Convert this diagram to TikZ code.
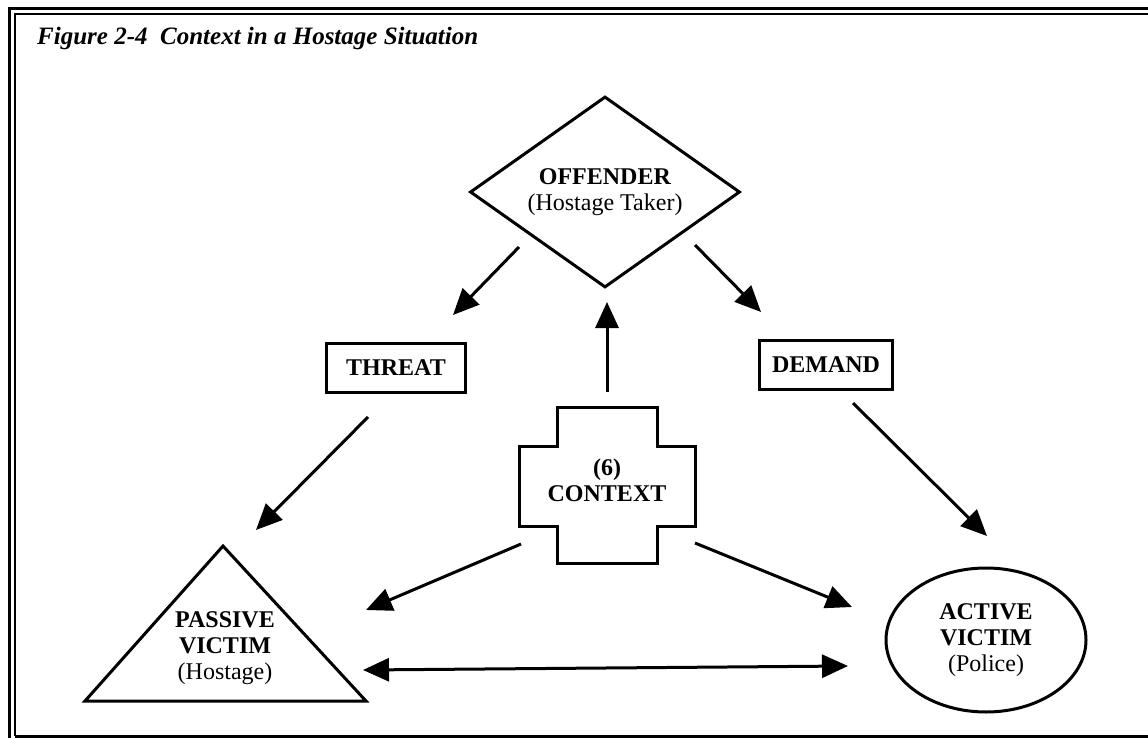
\documentclass[tikz,border=0pt]{standalone}
\usepackage{fontspec}
\setmainfont{Liberation Serif}
\usetikzlibrary{arrows.meta,shapes.geometric,calc}
\begin{document}
\begin{tikzpicture}[x=1pt,y=-1pt,
  outline/.style={line width=3pt, line join=miter},
  conn/.style={line width=3pt, -{Triangle[length=26pt,width=23pt]}},
  twoway/.style={line width=3pt, {Triangle[length=26pt,width=23pt]}-{Triangle[length=26pt,width=23pt]}},
  lbl/.style={align=center, font=\fontsize{24}{26}\selectfont, inner sep=0pt},
  tag/.style={draw, outline, inner sep=0pt, font=\fontsize{24}{26}\selectfont\bfseries},
]
\useasboundingbox (0,0) rectangle (1148,738);
\fill[white] (0,0) rectangle (1148,738);

% double frame
\draw[line width=3pt] (1148,9) -- (9.5,9) -- (9.5,738);
\draw[line width=2pt] (1148,14.5) -- (15,14.5) -- (15,736);
\draw[line width=3pt] (15,736) -- (1148,736);

% caption
\node[anchor=base west, inner sep=0pt, font=\fontsize{25}{28}\selectfont\bfseries\itshape] (title) at (37,45)
  {Figure 2-4\ \ Context in a Hostage Situation};

% offender
\node[diamond, draw, outline, shape aspect=1.4, minimum width=270pt, minimum height=191pt,
      lbl] (off) at (605,192) {\textbf{OFFENDER}\\(Hostage Taker)};

% threat and demand
\node[tag, minimum width=139pt, minimum height=49pt] (threat) at (396,368) {THREAT};
\node[tag, minimum width=133pt, minimum height=49pt] (demand) at (826,365) {DEMAND};

% context cross
\node[lbl, font=\fontsize{24}{26}\selectfont\bfseries] (ctx) at (607,480) {(6)\\CONTEXT};
\draw[outline] ($(ctx)+(-50,-73)$) -- ++(100,0) -- ++(0,39) -- ++(38,0) -- ++(0,80)
  -- ++(-38,0) -- ++(0,37) -- ++(-100,0) -- ++(0,-37) -- ++(-38,0) -- ++(0,-80)
  -- ++(38,0) -- cycle;

% passive victim
\node[lbl] (pas) at (225,648) {\textbf{PASSIVE}\\\textbf{VICTIM}\\(Hostage)};
\draw[outline] ($(pas)+(-2,-102)$) -- ($(pas)+(141,53)$) -- ($(pas)+(-140,53)$) -- cycle;

% active victim
\node[ellipse, draw, outline, minimum width=200pt, minimum height=144pt, lbl] (act) at (986,640)
  {\textbf{ACTIVE}\\\textbf{VICTIM}\\(Police)};

% connector ends
\coordinate (off-sw) at (519,247);
\coordinate (threat-top) at (453,315);
\coordinate (off-se) at (695,245);
\coordinate (demand-top) at (761,312);
\coordinate (ctx-top) at (607,392);
\coordinate (off-bottom) at (607,302);
\coordinate (threat-bottom) at (368,417);
\coordinate (pas-top) at (256,530);
\coordinate (demand-bottom) at (853,403);
\coordinate (act-top) at (987,536);
\coordinate (ctx-sw) at (521,544);
\coordinate (pas-right) at (366,610);
\coordinate (ctx-se) at (695,543);
\coordinate (act-left) at (852,607);
\coordinate (pas-base) at (363,670);
\coordinate (act-base) at (848,666);

\draw[conn] (off-sw) -- (threat-top);
\draw[conn] (off-se) -- (demand-top);
\draw[conn] (ctx-top) -- (off-bottom);
\draw[conn] (threat-bottom) -- (pas-top);
\draw[conn] (demand-bottom) -- (act-top);
\draw[conn] (ctx-sw) -- (pas-right);
\draw[conn] (ctx-se) -- (act-left);
\draw[twoway] (pas-base) -- (act-base);
\end{tikzpicture}
\end{document}
